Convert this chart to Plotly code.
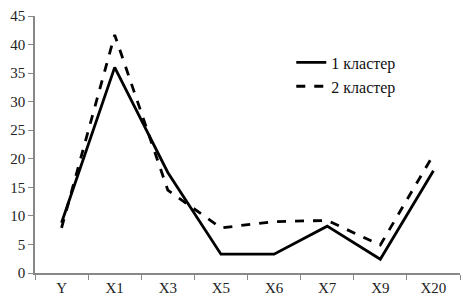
import plotly.graph_objects as go

categories = ["Y", "X1", "X3", "X5", "X6", "X7", "X9", "X20"]
cluster1 = [8.8, 36.0, 17.6, 3.3, 3.3, 8.2, 2.4, 17.9]
cluster2 = [7.9, 41.7, 14.5, 7.9, 9.0, 9.2, 4.9, 20.7]
names = ["1 кластер", "2 кластер"]

fig = go.Figure()
fig.add_trace(go.Scatter(x=categories, y=cluster1, mode="lines", name=names[0],
                         line=dict(color="black", width=2.8)))
fig.add_trace(go.Scatter(x=categories, y=cluster2, mode="lines", name=names[1],
                         line=dict(color="black", width=2.8, dash="dash")))

font = "Liberation Serif, Times New Roman, serif"
fig.update_layout(
    width=463, height=308,
    margin=dict(l=35, r=3, t=16, b=35, autoexpand=False),
    paper_bgcolor="white", plot_bgcolor="white",
    font=dict(family=font, size=15, color="#222"),
    legend=dict(x=0.603, y=0.885, xanchor="left", yanchor="top",
                bgcolor="rgba(0,0,0,0)", font=dict(size=16, family=font, color="#111"),
                tracegroupgap=6),
    showlegend=True,
)
fig.update_xaxes(type="category", range=[-0.5, 7.5], showline=True, linecolor="#888",
                 linewidth=1.5, ticks="outside", tickson="boundaries", ticklen=5,
                 tickcolor="#888", showgrid=False, zeroline=False, automargin=False)
fig.update_yaxes(range=[0, 45], dtick=5, showline=True, linecolor="#888", linewidth=1.5,
                 ticks="outside", ticklen=5, tickcolor="#888", showgrid=False,
                 zeroline=False, automargin=False)

fig.write_html("out.html", config={"displayModeBar": False},
               post_script="document.body.style.margin='0';")
